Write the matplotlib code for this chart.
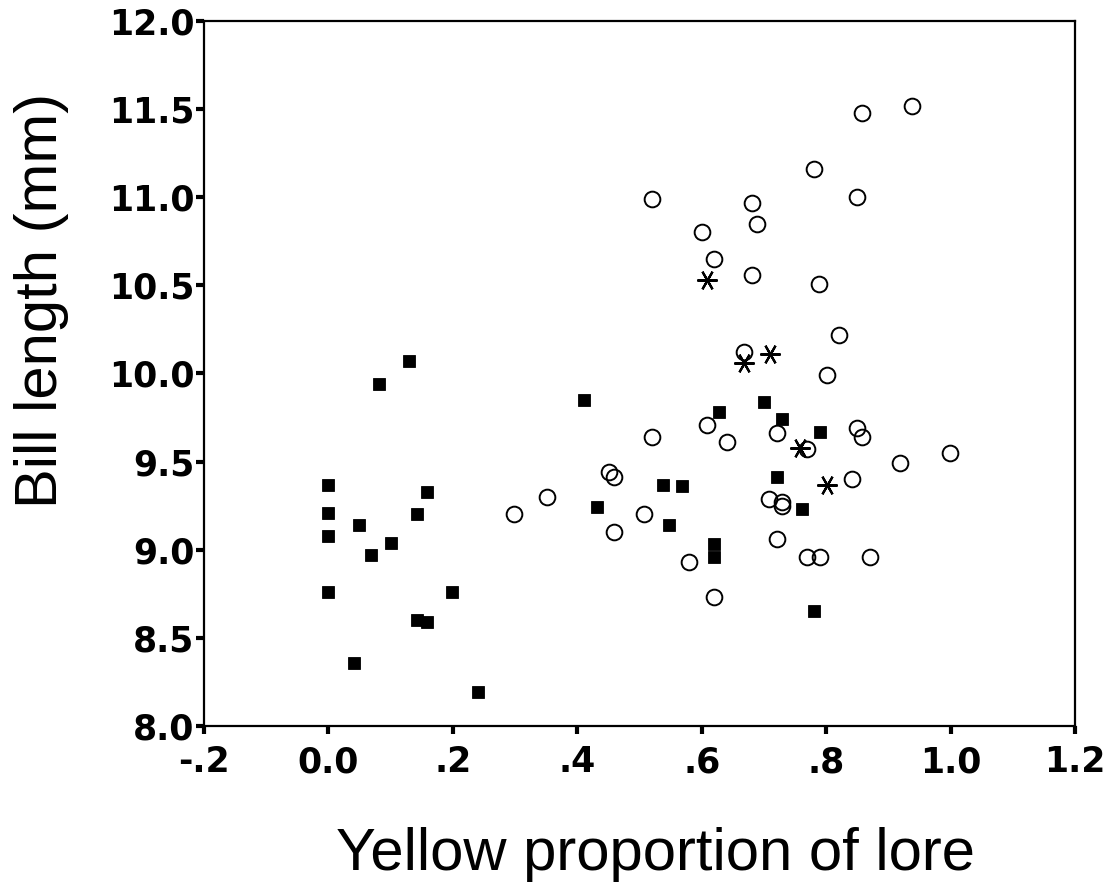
import matplotlib
matplotlib.use("Agg")
import matplotlib.pyplot as plt
from matplotlib import font_manager

# ----- Data -----
sq_x = [0.0, 0.0, 0.0, 0.0, 0.041, 0.049, 0.069, 0.10, 0.081, 0.13,
        0.142, 0.158, 0.142, 0.158, 0.199, 0.24,
        0.41, 0.431, 0.538, 0.568, 0.548, 0.62, 0.62, 0.628, 0.70, 0.729,
        0.79, 0.721, 0.761, 0.781]
sq_y = [9.37, 9.21, 9.08, 8.76, 8.36, 9.14, 8.97, 9.04, 9.94, 10.07,
        9.20, 9.33, 8.60, 8.59, 8.76, 8.19,
        9.85, 9.24, 9.37, 9.36, 9.14, 9.03, 8.96, 9.78, 9.84, 9.74,
        9.67, 9.41, 9.23, 8.65]

circ_x = [0.52, 0.681, 0.689, 0.600, 0.620, 0.681, 0.668, 0.608,
          0.858, 0.938, 0.781, 0.850, 0.789, 0.821, 0.801,
          0.721, 0.769, 0.849, 0.858, 0.999, 0.919, 0.842,
          0.708, 0.729, 0.729, 0.721, 0.769, 0.790, 0.871,
          0.52, 0.640, 0.451, 0.459, 0.351, 0.298, 0.507, 0.459, 0.580, 0.620]
circ_y = [10.99, 10.97, 10.85, 10.80, 10.65, 10.56, 10.12, 9.71,
          11.48, 11.52, 11.16, 11.00, 10.51, 10.22, 9.99,
          9.66, 9.57, 9.69, 9.64, 9.55, 9.49, 9.40,
          9.29, 9.27, 9.25, 9.06, 8.96, 8.96, 8.96,
          9.64, 9.61, 9.44, 9.41, 9.30, 9.20, 9.20, 9.10, 8.93, 8.73]

star_x = [0.608, 0.668, 0.710, 0.758, 0.801]
star_y = [10.53, 10.06, 10.11, 9.58, 9.37]

xticks = [-0.2, 0.0, 0.2, 0.4, 0.6, 0.8, 1.0, 1.2]
xtick_labels = ['-.2', '0.0', '.2', '.4', '.6', '.8', '1.0', '1.2']
yticks = [8.0, 8.5, 9.0, 9.5, 10.0, 10.5, 11.0, 11.5, 12.0]
ytick_labels = ['8.0', '8.5', '9.0', '9.5', '10.0', '10.5', '11.0', '11.5', '12.0']

# ----- Fonts -----
names = {f.name for f in font_manager.fontManager.ttflist}
if 'Liberation Sans Narrow' in names:
    label_font, label_size = 'Liberation Sans Narrow', 52
else:
    label_font, label_size = 'Liberation Sans', 43

# ----- Figure -----
fig = plt.figure(figsize=(11.19, 8.90), dpi=100)
ax = fig.add_axes([0.1823, 0.1843, 0.9607 - 0.1823, 0.9764 - 0.1843])

ax.plot(sq_x, sq_y, ls='none', marker='s', ms=8.4, mfc='black', mec='black',
        mew=0.6, zorder=3)
ax.plot(circ_x, circ_y, ls='none', marker='o', ms=11.3, mfc='none', mec='black',
        mew=1.4, zorder=3)
ax.plot(star_x, star_y, ls='none', marker=(6, 2, 90), ms=14.5, mec='black',
        mew=1.6, zorder=4)

ax.set_xlim(-0.2, 1.2)
ax.set_ylim(8.0, 12.0)
ax.set_xticks(xticks)
ax.set_xticklabels(xtick_labels)
ax.set_yticks(yticks)
ax.set_yticklabels(ytick_labels)

for lab in ax.get_xticklabels() + ax.get_yticklabels():
    lab.set_fontfamily('DejaVu Sans')
    lab.set_fontweight('bold')
    lab.set_fontsize(25)

ax.tick_params(axis='both', direction='out', length=6, width=3, color='black')
ax.tick_params(axis='x', pad=8)
ax.tick_params(axis='y', pad=1)
for t in ax.xaxis.get_major_ticks() + ax.yaxis.get_major_ticks():
    t.tick1line.set_solid_capstyle('round')

for s in ax.spines.values():
    s.set_linewidth(1.6)
    s.set_color('black')

ax.set_xlabel('Yellow proportion of lore', fontfamily=label_font,
              fontsize=label_size, va='center')
ax.set_ylabel('Bill length (mm)', fontfamily=label_font,
              fontsize=label_size, va='center')
ax.xaxis.set_label_coords(0.518, -0.183)
ax.yaxis.set_label_coords(-0.186, 0.604)

fig.savefig('out.png', dpi=100)
